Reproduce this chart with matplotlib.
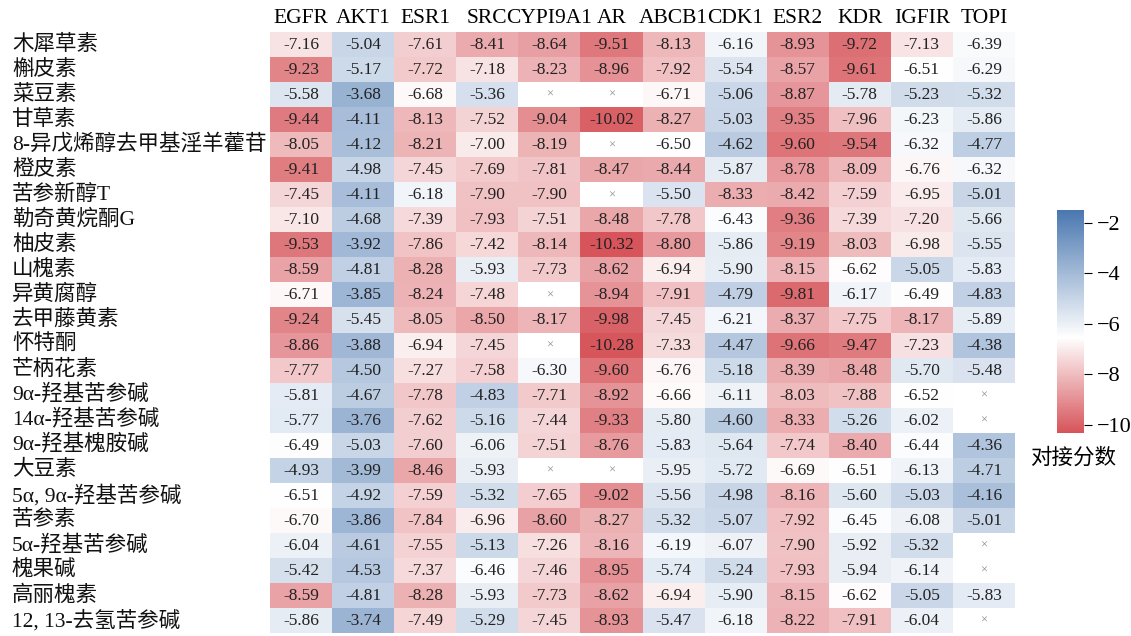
import numpy as np
import matplotlib
matplotlib.use("Agg")
import matplotlib.pyplot as plt
from matplotlib.colors import LinearSegmentedColormap, Normalize
from matplotlib.transforms import blended_transform_factory

plt.rcParams['font.family'] = ['Liberation Serif', 'Noto Sans CJK SC']
plt.rcParams['axes.unicode_minus'] = True

targets = ["EGFR", "AKT1", "ESR1", "SRC", "CYPI9A1", "AR", "ABCB1",
           "CDK1", "ESR2", "KDR", "IGFIR", "TOPI"]

compounds = ["木犀草素", "槲皮素", "菜豆素", "甘草素", "8-异戊烯醇去甲基淫羊藿苷",
             "橙皮素", "苦参新醇T", "勒奇黄烷酮G", "柚皮素", "山槐素", "异黄腐醇",
             "去甲藤黄素", "怀特酮", "芒柄花素", "9α-羟基苦参碱", "14α-羟基苦参碱",
             "9α-羟基槐胺碱", "大豆素", "5α, 9α-羟基苦参碱", "苦参素",
             "5α-羟基苦参碱", "槐果碱", "高丽槐素", "12, 13-去氢苦参碱"]

nan = np.nan
# docking scores, one list per target (nan = no result)
egfr = [-7.16, -9.23, -5.58, -9.44, -8.05, -9.41, -7.45, -7.10, -9.53, -8.59, -6.71, -9.24,
        -8.86, -7.77, -5.81, -5.77, -6.49, -4.93, -6.51, -6.70, -6.04, -5.42, -8.59, -5.86]
akt1 = [-5.04, -5.17, -3.68, -4.11, -4.12, -4.98, -4.11, -4.68, -3.92, -4.81, -3.85, -5.45,
        -3.88, -4.50, -4.67, -3.76, -5.03, -3.99, -4.92, -3.86, -4.61, -4.53, -4.81, -3.74]
esr1 = [-7.61, -7.72, -6.68, -8.13, -8.21, -7.45, -6.18, -7.39, -7.86, -8.28, -8.24, -8.05,
        -6.94, -7.27, -7.78, -7.62, -7.60, -8.46, -7.59, -7.84, -7.55, -7.37, -8.28, -7.49]
src = [-8.41, -7.18, -5.36, -7.52, -7.00, -7.69, -7.90, -7.93, -7.42, -5.93, -7.48, -8.50,
       -7.45, -7.58, -4.83, -5.16, -6.06, -5.93, -5.32, -6.96, -5.13, -6.46, -5.93, -5.29]
cyp19a1 = [-8.64, -8.23, nan, -9.04, -8.19, -7.81, -7.90, -7.51, -8.14, -7.73, nan, -8.17,
           nan, -6.30, -7.71, -7.44, -7.51, nan, -7.65, -8.60, -7.26, -7.46, -7.73, -7.45]
ar = [-9.51, -8.96, nan, -10.02, nan, -8.47, nan, -8.48, -10.32, -8.62, -8.94, -9.98,
      -10.28, -9.60, -8.92, -9.33, -8.76, nan, -9.02, -8.27, -8.16, -8.95, -8.62, -8.93]
abcb1 = [-8.13, -7.92, -6.71, -8.27, -6.50, -8.44, -5.50, -7.78, -8.80, -6.94, -7.91, -7.45,
         -7.33, -6.76, -6.66, -5.80, -5.83, -5.95, -5.56, -5.32, -6.19, -5.74, -6.94, -5.47]
cdk1 = [-6.16, -5.54, -5.06, -5.03, -4.62, -5.87, -8.33, -6.43, -5.86, -5.90, -4.79, -6.21,
        -4.47, -5.18, -6.11, -4.60, -5.64, -5.72, -4.98, -5.07, -6.07, -5.24, -5.90, -6.18]
esr2 = [-8.93, -8.57, -8.87, -9.35, -9.60, -8.78, -8.42, -9.36, -9.19, -8.15, -9.81, -8.37,
        -9.66, -8.39, -8.03, -8.33, -7.74, -6.69, -8.16, -7.92, -7.90, -7.93, -8.15, -8.22]
kdr = [-9.72, -9.61, -5.78, -7.96, -9.54, -8.09, -7.59, -7.39, -8.03, -6.62, -6.17, -7.75,
       -9.47, -8.48, -7.88, -5.26, -8.40, -6.51, -5.60, -6.45, -5.92, -5.94, -6.62, -7.91]
igf1r = [-7.13, -6.51, -5.23, -6.23, -6.32, -6.76, -6.95, -7.20, -6.98, -5.05, -6.49, -8.17,
         -7.23, -5.70, -6.52, -6.02, -6.44, -6.13, -5.03, -6.08, -5.32, -6.14, -5.05, -6.04]
top1 = [-6.39, -6.29, -5.32, -5.86, -4.77, -6.32, -5.01, -5.66, -5.55, -5.83, -4.83, -5.89,
        -4.38, -5.48, nan, nan, -4.36, -4.71, -4.16, -5.01, nan, nan, -5.83, nan]

scores = np.array([egfr, akt1, esr1, src, cyp19a1, ar, abcb1, cdk1, esr2, kdr, igf1r, top1]).T

vmin, vmax, vmid = -10.32, -1.5, -6.55
mid = (vmid - vmin) / (vmax - vmin)
cmap = LinearSegmentedColormap.from_list(
    "dock", [(0.0, "#d6545a"), (mid, "#ffffff"), (1.0, "#4a77b0")])
cmap.set_bad("white")
norm = Normalize(vmin=vmin, vmax=vmax)

fig = plt.figure(figsize=(11.31, 6.36), dpi=100)
ax = fig.add_axes([270 / 1131, 1 - 633 / 636, 745 / 1131, 601 / 636])

mesh = ax.pcolormesh(np.ma.masked_invalid(scores), cmap=cmap, norm=norm)
ax.set_xlim(0, len(targets))
ax.set_ylim(len(compounds), 0)

for i in range(len(compounds)):
    for j in range(len(targets)):
        v = scores[i, j]
        if np.isnan(v):
            ax.text(j + 0.5, i + 0.52, "×", ha="center", va="center",
                    fontsize=9, color="#8a8a8a")
        else:
            ax.text(j + 0.5, i + 0.52, f"{v:.2f}", ha="center", va="center",
                    fontsize=12.5, color="#222222")

ax.xaxis.tick_top()
ax.set_xticks(np.arange(len(targets)) + 0.5)
ax.set_xticklabels(targets, fontsize=15.5)
ax.tick_params(axis="x", length=0, pad=3)
ax.set_yticks([])
for s in ax.spines.values():
    s.set_visible(False)

# compound names, left-aligned near the figure edge
trans = blended_transform_factory(fig.transFigure, ax.transData)
for i, name in enumerate(compounds):
    ax.text(12 / 1131, i + 0.5, name, transform=trans, ha="left", va="center",
            fontsize=15.5, color="#111111")

cax = fig.add_axes([1057 / 1131, 1 - 433 / 636, 27 / 1131, 223 / 636])
cb = fig.colorbar(mesh, cax=cax, ticks=[-2, -4, -6, -8, -10])
cb.outline.set_visible(False)
cb.ax.tick_params(labelsize=16, length=6, width=0.8, pad=3)
cb.ax.set_yticklabels(["\u22122", "\u22124", "\u22126", "\u22128", "\u221210"])
fig.text(1073 / 1131, 1 - 458 / 636, "对接分数", ha="center", va="center", fontsize=15.5)

fig.savefig("out.png", dpi=100)
